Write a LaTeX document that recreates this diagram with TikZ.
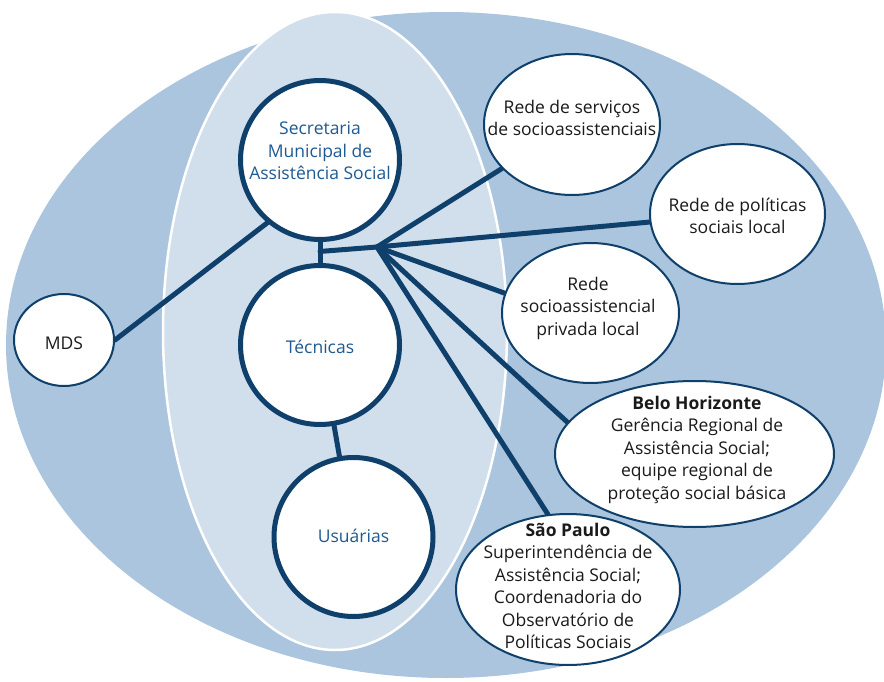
\documentclass[tikz,border=0pt]{standalone}
\usepackage{fontspec}
\setmainfont{Open Sans}
\usetikzlibrary{shapes.geometric,calc}
\pgfdeclarelayer{back}
\pgfdeclarelayer{conn}
\pgfsetlayers{back,conn,main}
\definecolor{outerblue}{HTML}{ABC5DE}
\definecolor{innerblue}{HTML}{D1DFEC}
\definecolor{navy}{HTML}{0F406B}
\definecolor{txtblue}{HTML}{1F5A91}
\definecolor{txtdark}{HTML}{1A1A1A}
\begin{document}
\begin{tikzpicture}[x=1pt,y=-1pt,
  bigcirc/.style={circle,draw=navy,line width=5pt,fill=white,minimum size=159pt,inner sep=0pt},
  ell/.style={ellipse,draw=navy,line width=2pt,fill=white,inner sep=0pt},
  intxt/.style={font=\fontsize{17.5}{22.5}\selectfont,text=txtblue,align=center,inner sep=0pt},
  outtxt/.style={font=\fontsize{17.5}{22.5}\selectfont,text=txtdark,align=center,inner sep=0pt},
  conn/.style={draw=navy,line width=5pt,line cap=round,line join=round}]
\useasboundingbox (0,0) rectangle (884,682);
\begin{pgfonlayer}{back}
\fill[outerblue] (446,345) ellipse [x radius=440, y radius=333];
\filldraw[fill=innerblue, draw=white, line width=2.5pt] (335,331) ellipse [x radius=172, y radius=319];
\end{pgfonlayer}

\node[bigcirc, label={[intxt,yshift=9pt]center:{Secretaria\\Municipal de\\Assistência Social}}] (sec) at (320,160) {};
\node[bigcirc, label={[intxt,yshift=-2pt]center:{Técnicas}}] (tec) at (320,345) {};
\node[bigcirc, label={[intxt,yshift=1pt]center:{Usuárias}}] (usu) at (353.5,537) {};
\node[ell, minimum width=100pt, minimum height=92pt, label={[outtxt,yshift=-3pt]center:{MDS}}] (mds) at (64,340) {};
\node[ell, minimum width=176pt, minimum height=141pt, label={[outtxt,yshift=6.5pt]center:{Rede de serviços\\de socioassistenciais}}] (rs) at (572,124.5) {};
\node[ell, minimum width=175pt, minimum height=140pt, label={[outtxt,yshift=-2pt]center:{Rede de políticas\\sociais local}}] (rp) at (737.5,214) {};
\node[ell, minimum width=177pt, minimum height=140pt, label={[outtxt,yshift=5pt,xshift=-2.5pt]center:{Rede\\socioassistencial\\privada local}}] (rsp) at (590.5,313) {};
\node[ell, minimum width=279pt, minimum height=146pt, label={[outtxt,yshift=4.5pt,xshift=2.5pt]center:{\bfseries Belo Horizonte\\Gerência Regional de\\Assistência Social;\\equipe regional de\\proteção social básica}}] (bh) at (694.5,454) {};
\node[ell, minimum width=224pt, minimum height=151pt, label={[outtxt,yshift=3.5pt]center:{\bfseries São Paulo\\Superintendência de\\Assistência Social;\\Coordenadoria do\\Observatório de\\Políticas Sociais}}] (sp) at (568,589.5) {};

\coordinate (hub) at (377,247);
\coordinate (jn) at ($(sec.south)!0.45!(tec.north)$);
\begin{pgfonlayer}{conn}
\draw[conn] (sec.south) -- (tec.north);
\draw[conn] (jn) -- (hub);
\draw[conn] (sec.230) -- (mds.east);
\draw[conn] (tec) -- (usu);
\draw[conn] (hub) -- (rs);
\draw[conn] (hub) -- (rp);
\draw[conn] (hub) -- (rsp.167);
\draw[conn] (hub) -- (bh.166);
\draw[conn] (hub) -- (sp.105);
\end{pgfonlayer}
\end{tikzpicture}
\end{document}
